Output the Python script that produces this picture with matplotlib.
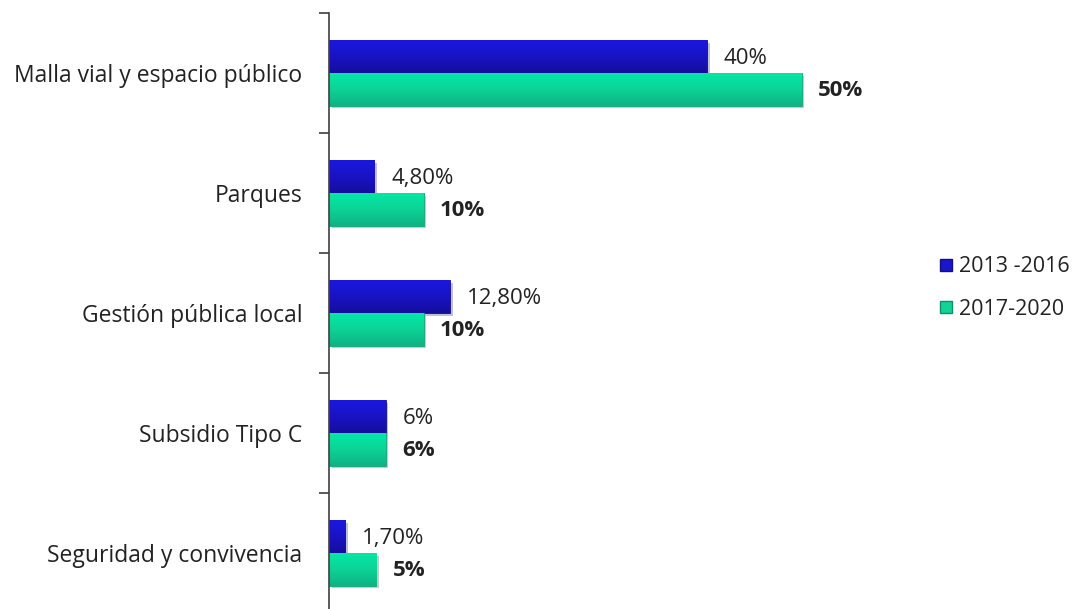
import matplotlib
matplotlib.use("Agg")
import matplotlib.pyplot as plt
import matplotlib.patheffects as pe
from matplotlib.lines import Line2D
from matplotlib.colors import LinearSegmentedColormap
import numpy as np

categories = ["Malla vial y espacio público", "Parques", "Gestión pública local",
              "Subsidio Tipo C", "Seguridad y convivencia"]
series_names = ["2013 -2016", "2017-2020"]
vals_2013 = [40, 4.8, 12.8, 6, 1.7]
vals_2017 = [50, 10, 10, 6, 5]
labels_2013 = ["40%", "4,80%", "12,80%", "6%", "1,70%"]
labels_2017 = ["50%", "10%", "10%", "6%", "5%"]

plt.rcParams['font.family'] = ['Open Sans', 'DejaVu Sans']
W, H = 1075, 609
fig = plt.figure(figsize=(W/100, H/100), dpi=100)
ax = fig.add_axes([329/W, 1 - 613/H, 567/W, 600/H])

blue = "#1A16CC"
green = "#12D497"
txt = "#222222"
cm_blue = LinearSegmentedColormap.from_list("b", ["#1B18DE", "#1913C4", "#140E9C"])
cm_green = LinearSegmentedColormap.from_list("g", ["#02E8A4", "#0CD396", "#0FB283"])
n = len(categories)
y = np.arange(n)
bh = 0.272
shadow = [pe.SimplePatchShadow(offset=(2, -2), alpha=0.25), pe.Normal()]

b1 = ax.barh(y - bh/2, vals_2013, height=bh, color=blue, edgecolor="#120E90", linewidth=0.6)
b2 = ax.barh(y + bh/2, vals_2017, height=bh, color=green, edgecolor="#0DA878", linewidth=0.6)
grad = np.linspace(0, 1, 64).reshape(-1, 1)
for bars, cmap in ((b1, cm_blue), (b2, cm_green)):
    for b in bars:
        b.set_path_effects(shadow)
        x0, y0, w, h = b.get_x(), b.get_y(), b.get_width(), b.get_height()
        ax.imshow(grad, cmap=cmap, aspect="auto", extent=(x0, x0 + w, y0 + h, y0),
                  origin="upper", zorder=b.get_zorder() + 0.1, interpolation="bicubic")

for i in range(n):
    ax.annotate(labels_2013[i], (vals_2013[i], y[i] - bh/2), xytext=(12, -1),
                textcoords="offset points", va="center", ha="left",
                fontsize=16, color=txt)
    ax.annotate(labels_2017[i], (vals_2017[i], y[i] + bh/2), xytext=(12, -1),
                textcoords="offset points", va="center", ha="left",
                fontsize=16, color=txt, fontweight="bold")

ax.set_xlim(0, 60)
ax.set_ylim(n - 0.5, -0.5)
for s in ["top", "right", "bottom"]:
    ax.spines[s].set_visible(False)
ax.spines["left"].set_color("#404040")
ax.spines["left"].set_linewidth(1.2)
ax.spines["left"].set_zorder(5)
ax.set_xticks([])
ax.set_yticks(np.arange(-0.5, n + 0.5, 1))
ax.set_yticklabels([])
ax.tick_params(axis="y", which="major", length=7, width=1.2, color="#404040", direction="out")
ax.set_yticks(y, minor=True)
ax.set_yticklabels(categories, minor=True, fontsize=16.5, color=txt)
ax.tick_params(axis="y", which="minor", length=0, pad=19)

handles = [Line2D([], [], marker="s", linestyle="none", markersize=9,
                  markerfacecolor=blue, markeredgecolor="#101080"),
           Line2D([], [], marker="s", linestyle="none", markersize=9,
                  markerfacecolor=green, markeredgecolor="#0A9070")]
fig.legend(handles, series_names, loc="center left", bbox_to_anchor=(916/W, 1 - 288/H),
           frameon=False, fontsize=15.5, handletextpad=0.1, labelspacing=1.0,
           handlelength=1.0, labelcolor=txt)

fig.savefig("out.png", dpi=100)
